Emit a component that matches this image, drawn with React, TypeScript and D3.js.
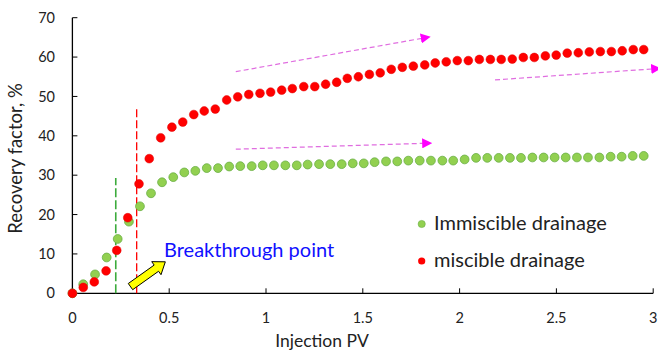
import React from "react";
import * as d3 from "d3";

// injection PV / recovery factor (%)
const immiscibleX = [0, 0.056, 0.117, 0.177, 0.234, 0.292, 0.349, 0.406, 0.463, 0.521, 0.578, 0.635, 0.694, 0.752, 0.81, 0.867, 0.926, 0.983, 1.041, 1.1, 1.159, 1.215, 1.274, 1.332, 1.391, 1.448, 1.505, 1.561, 1.62, 1.678, 1.735, 1.794, 1.852, 1.911, 1.967, 2.026, 2.085, 2.143, 2.202, 2.26, 2.317, 2.376, 2.434, 2.491, 2.548, 2.606, 2.663, 2.722, 2.78, 2.837, 2.894, 2.951];
const immiscibleY = [0, 2.3, 4.8, 9.1, 13.8, 18.2, 22.1, 25.4, 28.2, 29.5, 30.7, 31.1, 31.8, 31.8, 32.2, 32.3, 32.3, 32.5, 32.5, 32.5, 32.5, 32.7, 32.8, 32.8, 32.8, 33.0, 33.0, 33.3, 33.5, 33.5, 33.7, 33.7, 33.7, 33.7, 33.7, 34.0, 34.4, 34.4, 34.4, 34.4, 34.4, 34.5, 34.5, 34.5, 34.5, 34.5, 34.5, 34.5, 34.7, 34.7, 34.9, 34.9];

const miscibleX = [0, 0.056, 0.113, 0.174, 0.229, 0.286, 0.344, 0.397, 0.456, 0.514, 0.57, 0.627, 0.681, 0.738, 0.797, 0.854, 0.911, 0.969, 1.024, 1.081, 1.136, 1.195, 1.252, 1.308, 1.365, 1.42, 1.477, 1.534, 1.59, 1.647, 1.704, 1.761, 1.82, 1.874, 1.931, 1.988, 2.045, 2.102, 2.159, 2.215, 2.272, 2.329, 2.386, 2.443, 2.499, 2.556, 2.613, 2.67, 2.727, 2.784, 2.84, 2.897, 2.951];
const miscibleY = [0, 1.5, 2.9, 5.7, 10.9, 19.2, 27.8, 34.2, 39.5, 42.2, 43.5, 45.4, 46.3, 46.8, 49.1, 49.9, 50.5, 50.8, 51.1, 51.6, 52.0, 52.5, 52.5, 53.1, 53.6, 54.6, 55.0, 55.6, 56.0, 56.9, 57.4, 57.7, 58.0, 58.5, 58.8, 59.1, 59.1, 59.4, 59.4, 59.4, 59.5, 59.9, 59.9, 60.3, 60.5, 61.0, 61.1, 61.3, 61.4, 61.4, 61.6, 61.9, 61.9];

const xTicks = [0, 0.5, 1, 1.5, 2, 2.5, 3];
const yTicks = [0, 10, 20, 30, 40, 50, 60, 70];
const xTickLabels = ["0", "0.5", "1", "1.5", "2", "2.5", "3"];

// breakthrough markers [pv, top of dashed line]
const breakImmiscible = [0.224, 29.3];
const breakMiscible = [0.332, 47.4];

// trend arrows [x1, y1, x2, y2] in data units
const trendArrows = [
  [0.844, 56.3, 1.81, 64.8],
  [0.844, 36.6, 1.817, 38.1],
  [2.183, 54.2, 3.0, 57.0],
];
const pointerArrow = [0.3, 1.7, 0.48, 8.0];

const W = 658;
const H = 352;
const font = "Lato, 'Open Sans', sans-serif";
const textColor = "#222";

export default function App() {
  const x = d3.scaleLinear().domain([0, 3]).range([72.4, 653.2]);
  const y = d3.scaleLinear().domain([0, 70]).range([293.3, 17.7]);

  const immiscible = immiscibleX.map((v, i) => [v, immiscibleY[i]]);
  const miscible = miscibleX.map((v, i) => [v, miscibleY[i]]);

  // block arrow polygon for the yellow pointer
  const [px1, py1, px2, py2] = pointerArrow;
  const ax1 = x(px1), ay1 = y(py1), ax2 = x(px2), ay2 = y(py2);
  const ang = Math.atan2(ay2 - ay1, ax2 - ax1);
  const len = Math.hypot(ax2 - ax1, ay2 - ay1);
  const sw = 3.8, hw = 8, hl = 11;
  const arrowPts = [
    [0, -sw], [len - hl, -sw], [len - hl, -hw], [len, 0],
    [len - hl, hw], [len - hl, sw], [0, sw],
  ].map(([u, v]) => [
    ax1 + u * Math.cos(ang) - v * Math.sin(ang),
    ay1 + u * Math.sin(ang) + v * Math.cos(ang),
  ]);

  return (
    <svg width={W} height={H} style={{ position: "absolute", left: 0, top: 0, background: "#fff" }} fontFamily={font}>
      <defs>
        <marker id="mag" viewBox="0 0 10 10" refX="2" refY="5" markerWidth="10" markerHeight="10" markerUnits="userSpaceOnUse" orient="auto">
          <path d="M0,0 L10,5 L0,10 z" fill="#ff00ff" />
        </marker>
      </defs>

      {/* axes */}
      <line x1={x(0)} x2={x(3)} y1={y(0)} y2={y(0)} stroke="#000" strokeWidth={1.3} />
      <line x1={x(0)} x2={x(0)} y1={y(0)} y2={y(70)} stroke="#000" strokeWidth={1.3} />
      {xTicks.map((t, i) => (
        <g key={"xt" + t}>
          <line x1={x(t)} x2={x(t)} y1={y(0)} y2={y(0) - 5} stroke="#000" strokeWidth={1} />
          <text x={x(t)} y={323} textAnchor="middle" fontSize={14.5} fill={textColor}>{xTickLabels[i]}</text>
        </g>
      ))}
      {yTicks.map((t) => (
        <g key={"yt" + t}>
          <line x1={x(0)} x2={x(0) + 5} y1={y(t)} y2={y(t)} stroke="#000" strokeWidth={1} />
          <text x={55} y={y(t)} dy="0.35em" textAnchor="end" fontSize={14.5} fill={textColor}>{t}</text>
        </g>
      ))}
      <text x={322} y={347} textAnchor="middle" fontSize={17.5} fill={textColor}>Injection PV</text>
      <text transform="translate(22,158.5) rotate(-90)" textAnchor="middle" fontSize={18.5} fill={textColor}>Recovery factor, %</text>

      {/* breakthrough lines */}
      <line x1={x(breakImmiscible[0])} x2={x(breakImmiscible[0])} y1={y(0)} y2={y(breakImmiscible[1])} stroke="#3cab3c" strokeWidth={1.6} strokeDasharray="9,3" />
      <line x1={x(breakMiscible[0])} x2={x(breakMiscible[0])} y1={y(0)} y2={y(breakMiscible[1])} stroke="#ff0000" strokeWidth={1.3} strokeDasharray="8,3" />

      {/* trend arrows */}
      {trendArrows.map(([a, b, c, d], i) => (
        <line key={"ta" + i} x1={x(a)} y1={y(b)} x2={x(c)} y2={y(d)} stroke="#e06ee0" strokeWidth={1.2} strokeDasharray="5,3" markerEnd="url(#mag)" />
      ))}

      {/* series */}
      {immiscible.map(([a, b], i) => (
        <circle key={"g" + i} cx={x(a)} cy={y(b)} r={4.4} fill="#92d050" stroke="#6aae45" strokeWidth={0.8} />
      ))}
      {miscible.map(([a, b], i) => (
        <circle key={"r" + i} cx={x(a)} cy={y(b)} r={4.4} fill="#ff0000" stroke="#e00000" strokeWidth={0.5} />
      ))}

      {/* annotation */}
      <polygon points={arrowPts.map((p) => p.join(",")).join(" ")} fill="#ffff00" stroke="#000" strokeWidth={1} strokeLinejoin="miter" />
      <text x={164} y={256.5} fontSize={20} fill="#1010ff">Breakthrough point</text>

      {/* legend */}
      <circle cx={421.7} cy={224} r={3.6} fill="#92d050" stroke="#6aae45" strokeWidth={0.6} />
      <text x={434} y={229.5} fontSize={20} fill={textColor}>Immiscible drainage</text>
      <circle cx={421.7} cy={261} r={3.6} fill="#ff0000" />
      <text x={434} y={266.7} fontSize={20} fill={textColor}>miscible drainage</text>
    </svg>
  );
}
